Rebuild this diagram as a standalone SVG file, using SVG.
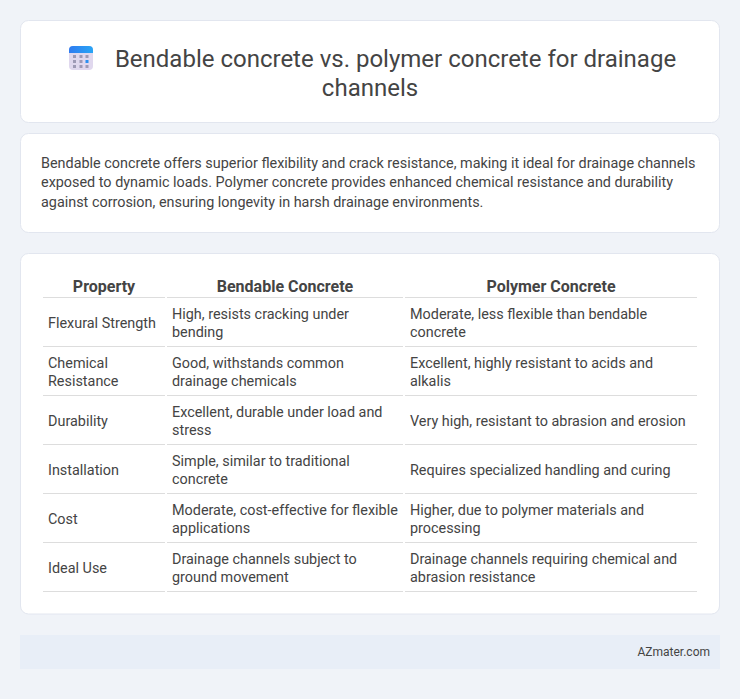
<svg xmlns="http://www.w3.org/2000/svg" width="740" height="699" viewBox="0 0 740 699">
<style>
text{font-family:Roboto,"Liberation Sans",sans-serif;fill:#444}
.card{fill:#fff;stroke:#e2e6ef;stroke-width:1}
.t{font-size:24px;text-anchor:middle}
.b{font-size:14.4px}
.h{font-size:16px;font-weight:700;text-anchor:middle}
.c{font-size:14.4px}
.r{stroke:#ddd;stroke-width:1;fill:none}
.g{fill:#9e9ab5}
</style>
<defs><linearGradient id="top" x1="0" y1="0" x2="1" y2="0"><stop offset="0" stop-color="#2f7bf0"/><stop offset="1" stop-color="#29a5f5"/></linearGradient></defs>
<rect width="740" height="699" fill="#f0f3f8"/>
<g id="title">
<rect class="card" x="20.5" y="20.5" width="699" height="102" rx="8"/>
<rect x="69" y="46" width="24" height="24" rx="4" fill="#e0d8ee"/>
<path d="M69 53V50a4 4 0 0 1 4-4H89a4 4 0 0 1 4 4V53Z" fill="url(#top)"/>
<g class="g"><rect x="73" y="55" width="3" height="3"/><rect x="79.500" y="55" width="3" height="3"/><rect x="85.500" y="55" width="3" height="3"/><rect x="73" y="60" width="3" height="3"/><rect x="79.500" y="60" width="3" height="3"/><rect x="85.500" y="60" width="3" height="3" fill="#2b8ff0"/><rect x="73" y="65" width="3" height="3"/><rect x="79.500" y="65" width="3" height="3"/><rect x="85.500" y="65" width="3" height="3"/></g>
<text class="t" x="395.500" y="67">Bendable concrete vs. polymer concrete for drainage</text>
<text class="t" x="370" y="96">channels</text>
</g>
<g id="intro">
<rect class="card" x="20.500" y="133.500" width="699" height="99" rx="8"/>
<text class="b" x="41" y="168">Bendable concrete offers superior flexibility and crack resistance, making it ideal for drainage channels</text>
<text class="b" x="41" y="187">exposed to dynamic loads. Polymer concrete provides enhanced chemical resistance and durability</text>
<text class="b" x="41" y="206.500">against corrosion, ensuring longevity in harsh drainage environments.</text>
</g>
<g id="table">
<rect class="card" x="20.500" y="253.500" width="699" height="360.500" rx="8"/>
<text class="h" x="104" y="291.500">Property</text><text class="h" x="285" y="291.500">Bendable Concrete</text><text class="h" x="551" y="291.500">Polymer Concrete</text>
<path class="r" d="M43 297.500H165M167 297.500H403M405 297.500H697M43 346.500H165M167 346.500H403M405 346.500H697M43 395.500H165M167 395.500H403M405 395.500H697M43 444.500H165M167 444.500H403M405 444.500H697M43 493.500H165M167 493.500H403M405 493.500H697M43 542.500H165M167 542.500H403M405 542.500H697M43 591.500H165M167 591.500H403M405 591.500H697"/>
<text class="c" x="48" y="328">Flexural Strength</text><text class="c" x="172" y="319">High, resists cracking under</text><text class="c" x="172" y="337">bending</text><text class="c" x="410" y="319">Moderate, less flexible than bendable</text><text class="c" x="410" y="337">concrete</text>
<text class="c" x="48" y="368">Chemical</text><text class="c" x="48" y="386">Resistance</text><text class="c" x="172" y="368">Good, withstands common</text><text class="c" x="172" y="386">drainage chemicals</text><text class="c" x="410" y="368">Excellent, highly resistant to acids and</text><text class="c" x="410" y="386">alkalis</text>
<text class="c" x="48" y="426">Durability</text><text class="c" x="172" y="417">Excellent, durable under load and</text><text class="c" x="172" y="435">stress</text><text class="c" x="410" y="426">Very high, resistant to abrasion and erosion</text>
<text class="c" x="48" y="475">Installation</text><text class="c" x="172" y="466">Simple, similar to traditional</text><text class="c" x="172" y="484">concrete</text><text class="c" x="410" y="475">Requires specialized handling and curing</text>
<text class="c" x="48" y="524">Cost</text><text class="c" x="172" y="515">Moderate, cost-effective for flexible</text><text class="c" x="172" y="533">applications</text><text class="c" x="410" y="515">Higher, due to polymer materials and</text><text class="c" x="410" y="533">processing</text>
<text class="c" x="48" y="573">Ideal Use</text><text class="c" x="172" y="564">Drainage channels subject to</text><text class="c" x="172" y="582">ground movement</text><text class="c" x="410" y="564">Drainage channels requiring chemical and</text><text class="c" x="410" y="582">abrasion resistance</text>
</g>
<g id="footer">
<rect x="20" y="635" width="700" height="34" fill="#e8eef7"/>
<text x="710" y="656" font-size="12" text-anchor="end">AZmater.com</text>
</g>
</svg>
